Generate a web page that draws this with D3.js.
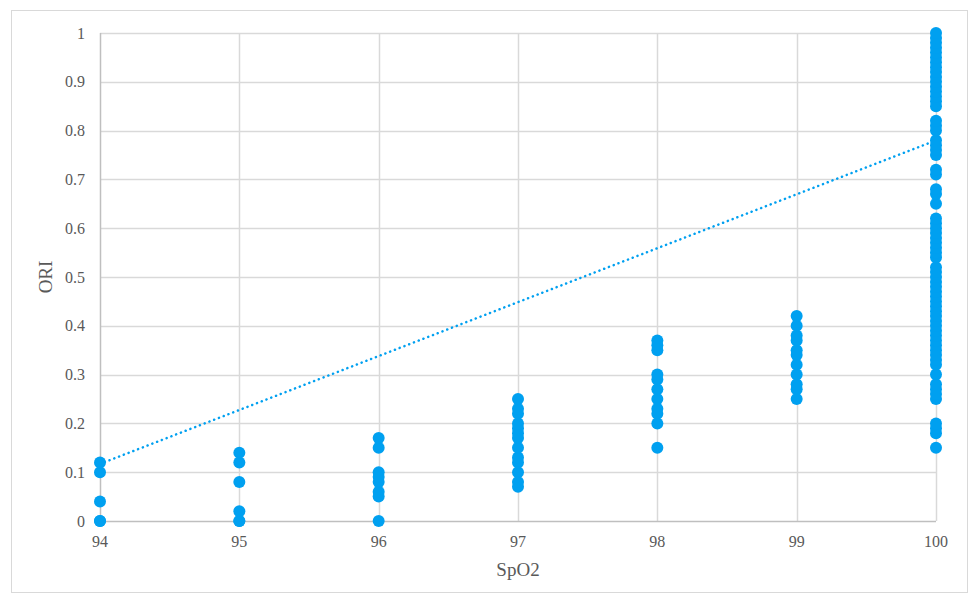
<!DOCTYPE html>
<html lang="en">
<head>
  <meta charset="UTF-8">
  <title>ORI vs SpO2</title>
  <script src="https://d3js.org/d3.v7.min.js"></script>
  <style>
    body {
      margin: 0;
      background-color: #fff;
      font-family: "Liberation Serif", "DejaVu Serif", serif;
    }
    .tick-label {
      font-size: 16px;
      fill: #595959;
    }
    .axis-title {
      font-size: 19px;
      fill: #595959;
    }
  </style>
</head>
<body>
  <svg id="chart" width="971" height="601"></svg>

  <script>
    // SpO2 values (x) and the ORI readings seen in each column
    const spo2_94 = [0, 0, 0.04, 0.10, 0.12];
    const spo2_95 = [0, 0, 0.02, 0.08, 0.12, 0.14];
    const spo2_96 = [0, 0.05, 0.06, 0.08, 0.09, 0.10, 0.15, 0.17];
    const spo2_97 = [0.07, 0.08, 0.10, 0.12, 0.13, 0.15, 0.17, 0.18, 0.19, 0.20, 0.22, 0.23, 0.25];
    const spo2_98 = [0.15, 0.20, 0.22, 0.23, 0.25, 0.27, 0.29, 0.30, 0.35, 0.36, 0.37];
    const spo2_99 = [0.25, 0.27, 0.28, 0.30, 0.32, 0.34, 0.35, 0.37, 0.38, 0.40, 0.42];
    const spo2_100 = [
      0.15, 0.18, 0.19, 0.20,
      0.25, 0.26, 0.27, 0.28, 0.30,
      0.32, 0.33, 0.34, 0.35, 0.36, 0.37, 0.38, 0.39, 0.40, 0.41, 0.42, 0.43, 0.44, 0.45,
      0.46, 0.47, 0.48, 0.49, 0.50, 0.51, 0.52,
      0.54, 0.55, 0.56, 0.57, 0.58, 0.59, 0.60, 0.61, 0.62,
      0.65, 0.67, 0.68, 0.71, 0.72,
      0.75, 0.76, 0.77, 0.78, 0.80, 0.81, 0.82,
      0.85, 0.86, 0.87, 0.88, 0.89, 0.90, 0.91, 0.92, 0.93, 0.94, 0.95, 0.96, 0.97, 0.98, 0.99, 1.00
    ];
    const columns = [
      [94, spo2_94], [95, spo2_95], [96, spo2_96], [97, spo2_97],
      [98, spo2_98], [99, spo2_99], [100, spo2_100]
    ];

    // linear trend line end points
    const trendX = [94, 100];
    const trendY = [0.117, 0.78];

    const xTicks = [94, 95, 96, 97, 98, 99, 100];
    const yTicks = [0, 0.1, 0.2, 0.3, 0.4, 0.5, 0.6, 0.7, 0.8, 0.9, 1];

    const svg = d3.select("#chart");
    const margin = { top: 33, right: 35, bottom: 80, left: 100 };
    const width = 971, height = 601;

    const x = d3.scaleLinear().domain([94, 100]).range([margin.left, width - margin.right]);
    const y = d3.scaleLinear().domain([0, 1]).range([height - margin.bottom, margin.top]);

    // outer chart border
    svg.append("rect")
      .attr("x", 11.5).attr("y", 10.5)
      .attr("width", 956).attr("height", 582)
      .attr("fill", "#fff")
      .attr("stroke", "#d9d9d9");

    // gridlines
    svg.append("g")
      .selectAll("line")
      .data(yTicks.slice(1))
      .enter().append("line")
      .attr("x1", x(94)).attr("x2", x(100))
      .attr("y1", d => Math.round(y(d)) + 0.5)
      .attr("y2", d => Math.round(y(d)) + 0.5)
      .attr("stroke", "#d9d9d9")
      .attr("stroke-width", 1.5);

    svg.append("g")
      .selectAll("line")
      .data(xTicks)
      .enter().append("line")
      .attr("x1", d => Math.round(x(d)) + 0.5)
      .attr("x2", d => Math.round(x(d)) + 0.5)
      .attr("y1", y(1)).attr("y2", y(0))
      .attr("stroke", d => d === 94 ? "#bfbfbf" : "#d9d9d9")
      .attr("stroke-width", 1.5);

    // x axis line
    svg.append("line")
      .attr("x1", x(94)).attr("x2", x(100))
      .attr("y1", Math.round(y(0)) + 0.5).attr("y2", Math.round(y(0)) + 0.5)
      .attr("stroke", "#bfbfbf")
      .attr("stroke-width", 1.5);

    // tick labels
    svg.append("g")
      .selectAll("text")
      .data(yTicks)
      .enter().append("text")
      .attr("class", "tick-label")
      .attr("x", x(94) - 15)
      .attr("y", d => y(d))
      .attr("dy", "0.35em")
      .attr("text-anchor", "end")
      .text(d => d3.format("~g")(d));

    svg.append("g")
      .selectAll("text")
      .data(xTicks)
      .enter().append("text")
      .attr("class", "tick-label")
      .attr("x", d => x(d))
      .attr("y", y(0) + 26)
      .attr("text-anchor", "middle")
      .text(d => d);

    // axis titles
    svg.append("text")
      .attr("class", "axis-title")
      .attr("transform", `translate(52,${(y(0) + y(1)) / 2}) rotate(-90)`)
      .attr("text-anchor", "middle")
      .text("ORI");

    svg.append("text")
      .attr("class", "axis-title")
      .attr("x", (x(94) + x(100)) / 2)
      .attr("y", y(0) + 55)
      .attr("text-anchor", "middle")
      .text("SpO2");

    // points
    const points = columns.flatMap(([sp, vals]) => vals.map(v => ({ sp, v })));
    svg.append("g")
      .selectAll("circle")
      .data(points)
      .enter().append("circle")
      .attr("cx", d => x(d.sp))
      .attr("cy", d => y(d.v))
      .attr("r", 6)
      .attr("fill", "#00a0f0");

    // dotted trend line
    svg.append("line")
      .attr("x1", x(trendX[0])).attr("y1", y(trendY[0]))
      .attr("x2", x(trendX[1])).attr("y2", y(trendY[1]))
      .attr("stroke", "#00a0f0")
      .attr("stroke-width", 2.5)
      .attr("stroke-dasharray", "0.1 5")
      .attr("stroke-linecap", "round");
  </script>
</body>
</html>
